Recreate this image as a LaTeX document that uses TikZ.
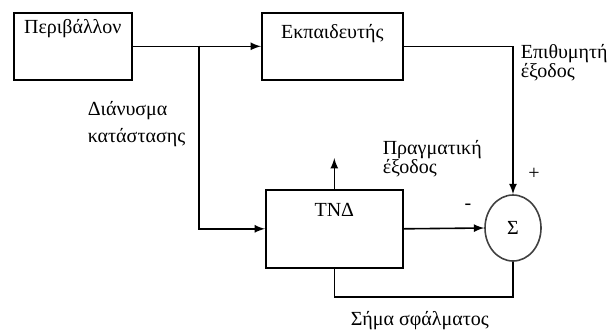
\documentclass[tikz,border=0pt]{standalone}
\usepackage{fontspec}
\setmainfont{Liberation Serif}
\usepackage{tikz}
\usetikzlibrary{calc,positioning,arrows,shapes}

\begin{document}
\begin{tikzpicture}[x=0.5pt,y=-0.5pt,line width=0.8pt,
  font=\fontsize{10}{10}\selectfont,
  block/.style={draw,rectangle,inner xsep=0pt,inner ysep=0pt,anchor=north west},
  txt/.style={inner sep=0pt,align=left,anchor=base west}]
\useasboundingbox (0,0) rectangle (608,333);
% blocks
\node[block,minimum width=59pt,text height=10.5pt,text depth=23pt] (env) at (13,12) {Περιβάλλον};
\node[block,minimum width=70.5pt,text height=13pt,text depth=20.5pt] (teach) at (261,12) {Εκπαιδευτής};
\node[block,minimum width=68.5pt,text height=13.5pt,text depth=25.5pt] (tnd) at (265,189) {ΤΝΔ};
\node[draw=black!75,ellipse,minimum width=28pt,minimum height=33pt,inner sep=0pt] (sum) at (513,228) {Σ};
% connectors
\coordinate (split) at (199,45.5);
\coordinate (out) at ($(tnd.north)+(0,-31)$);
\coordinate (err) at (0,297);
\draw[-latex] (env.east) -- (teach.west);
\draw[-latex] (split) |- (tnd.west);
\draw[-latex] (teach.east) -| (sum.north);
\draw[-latex] (tnd.east) -- (sum.west);
\draw[-latex] (tnd.north) -- (out);
\draw (sum.south) |- (err -| tnd.south) -- (tnd.south);
% labels (base = last line)
\node[txt,font=\fontsize{10}{13.5}\selectfont] (state) at (87,142) {Διάνυσμα\\κατάστασης};
\node[txt,font=\fontsize{10}{9.5}\selectfont] (desired) at (520,77) {Επιθυμητή\\έξοδος};
\node[txt,font=\fontsize{10}{9.5}\selectfont] (actual) at (382,173) {Πραγματική\\έξοδος};
\node[txt] (error) at (350,325) {Σήμα σφάλματος};
\node (minus) at (468,207) {-};
\node (plus) at (534,174) {+};
\end{tikzpicture}
\end{document}
